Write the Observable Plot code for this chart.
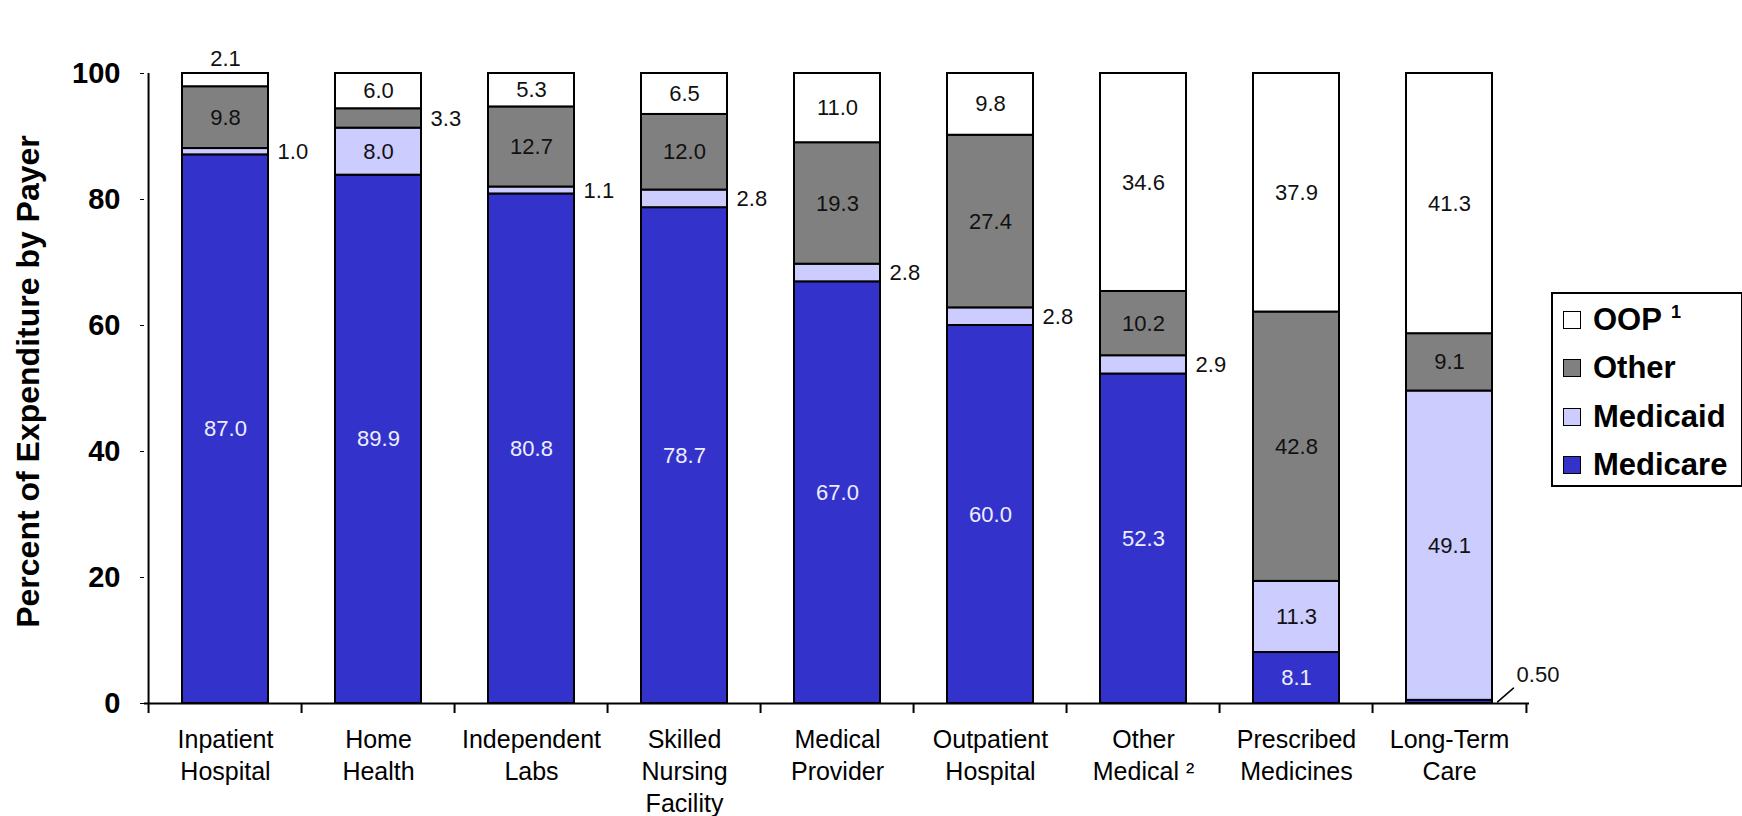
<!DOCTYPE html>
<html><head><meta charset="utf-8">
<script src="https://cdn.jsdelivr.net/npm/d3@7"></script>
<script src="https://cdn.jsdelivr.net/npm/@observablehq/plot@0.6"></script>
<style>
body{margin:0;background:#fff;font-family:"Liberation Sans",Arial,sans-serif;}
#wrap{position:relative;width:1742px;height:816px;overflow:hidden;}
#legend{position:absolute;left:1551px;top:292px;width:188px;height:191px;border:2px solid #000;background:#fff;}
.item{position:absolute;left:10px;height:36px;display:flex;align-items:center;font-weight:bold;font-size:31px;color:#000;white-space:nowrap;}
.sw{width:16px;height:16px;border:1.5px solid #000;margin-right:12px;flex:none;}
.item sup{font-size:18px;margin-left:9px;position:relative;top:-8px;}
</style></head>
<body><div id="wrap"><div id="chart"></div><div id="legend"></div></div>
<script>
const categories = ["Inpatient\nHospital", "Home\nHealth", "Independent\nLabs", "Skilled\nNursing\nFacility", "Medical\nProvider", "Outpatient\nHospital", "Other\nMedical ²", "Prescribed\nMedicines", "Long-Term\nCare"];
const series = ["Medicare", "Medicaid", "Other", "OOP"];
const seriesColors = ["#3333CC", "#CCCCFF", "#808080", "#FFFFFF"];
const medicare = [87.0, 89.9, 80.8, 78.7, 67.0, 60.0, 52.3, 8.1, 0.50];
const medicaid = [1.0, 8.0, 1.1, 2.8, 2.8, 2.8, 2.9, 11.3, 49.1];
const other    = [9.8, 3.3, 12.7, 12.0, 19.3, 27.4, 10.2, 42.8, 9.1];
const oop      = [2.1, 6.0, 5.3, 6.5, 11.0, 9.8, 34.6, 37.9, 41.3];
const yTicks = [0, 20, 40, 60, 80, 100];
const yTitle = "Percent of Expenditure by Payer";
const legendFootnotes = {OOP: "1"};

const seriesValues = [medicare, medicaid, other, oop];
const rows = [];
series.forEach((s, j) => categories.forEach((c, i) => rows.push({category: c, series: s, value: seriesValues[j][i]})));

const W = 1742, H = 816, mL = 144, mR = 213, mT = 73, mB = 113;
const step = (W - mL - mR) / categories.length;
const padIn = 0.44;
const bw = step * (1 - padIn);
const fmt = v => v < 1 ? v.toFixed(2) : v.toFixed(1);
const stackOpts = {offset: "normalize", order: series};
const base = {x: "category", y: "value", z: "series"};
const st = (extra) => Plot.stackY(stackOpts, {...base, ...extra});
const st2 = (extra) => Plot.stackY2(stackOpts, {...base, ...extra});
const leaderShape = {draw(context, l) { context.moveTo(0, 0); context.lineTo(0, -l); }};

const chart = Plot.plot({
  width: W, height: H,
  marginLeft: mL, marginRight: mR, marginTop: mT, marginBottom: mB,
  style: {fontFamily: '"Liberation Sans", Arial, sans-serif', background: "#fff", color: "#000"},
  x: {domain: categories, paddingInner: padIn, paddingOuter: padIn / 2, axis: null},
  y: {domain: [0, 1], axis: null},
  color: {domain: series, range: seriesColors},
  marks: [
    Plot.barY(rows, st({fill: "series", stroke: "#000", strokeWidth: 2})),
    Plot.ruleY([0], {stroke: "#000", strokeWidth: 2}),
    Plot.ruleX([categories[0]], {x: d => d, dx: -step / 2, stroke: "#000", strokeWidth: 2, insetBottom: -10}),
    Plot.ruleX(categories.slice(1), {x: d => d, dx: -step / 2, y1: 0, y2: 0, insetBottom: -10, stroke: "#000", strokeWidth: 2}),
    Plot.ruleX([categories[categories.length - 1]], {x: d => d, dx: step / 2, y1: 0, y2: 0, insetBottom: -10, stroke: "#000", strokeWidth: 2}),
    Plot.axisY({ticks: yTicks.map(t => t / 100), tickFormat: d => Math.round(d * 100), tickSize: 4, tickPadding: 20, fontSize: 29, fontWeight: "bold", label: null}),
    Plot.text([yTitle], {frameAnchor: "left", textAnchor: "middle", rotate: -90, dx: -116, dy: -7, fontSize: 32, fontWeight: "bold", fill: "#000"}),
    Plot.text(categories, {x: d => d, frameAnchor: "bottom", lineAnchor: "top", dy: 22, fontSize: 25, lineHeight: 1.27, fill: "#000", text: d => d}),
    // inside labels
    Plot.text(rows, st({text: d => d.value >= 4 && d.series === "Medicare" ? fmt(d.value) : null, fill: "#EEEEFF", fontSize: 22})),
    Plot.text(rows, st({text: d => d.value >= 4 && d.series !== "Medicare" ? fmt(d.value) : null, fill: "#111", fontSize: 22})),
    // right-side labels for thin segments
    Plot.text(rows, st({text: d => d.value >= 1 && d.value < 4 && d.series !== "OOP" ? fmt(d.value) : null, dx: bw / 2 + 9, textAnchor: "start", fill: "#111", fontSize: 22})),
    // above labels for thin top segments
    Plot.text(rows, st2({text: d => d.value < 4 && d.series === "OOP" ? fmt(d.value) : null, dy: -15, fill: "#111", fontSize: 22})),
    // leader label for tiny segments
    Plot.vector(rows, st({length: 21, rotate: 49, anchor: "start", shape: leaderShape, stroke: "#000", strokeWidth: 1.5, strokeOpacity: d => d.value < 1 ? 1 : 0, dx: bw / 2 + 5})),
    Plot.text(rows, st({text: d => d.value < 1 ? fmt(d.value) : null, dx: bw / 2 + 24, dy: -27, textAnchor: "start", fill: "#111", fontSize: 22}))
  ]
});
document.getElementById("chart").appendChild(chart);

const legend = document.getElementById("legend");
const rowTops = [8, 56, 105, 153];
series.slice().reverse().forEach((s, k) => {
  const color = seriesColors[series.indexOf(s)];
  const div = document.createElement("div");
  div.className = "item";
  div.style.top = rowTops[k] + "px";
  const sw = document.createElement("span");
  sw.className = "sw";
  sw.style.background = color;
  div.appendChild(sw);
  div.appendChild(document.createTextNode(s));
  if (legendFootnotes[s]) {
    const sup = document.createElement("sup");
    sup.textContent = legendFootnotes[s];
    div.appendChild(sup);
  }
  legend.appendChild(div);
});
</script>
</body></html>
